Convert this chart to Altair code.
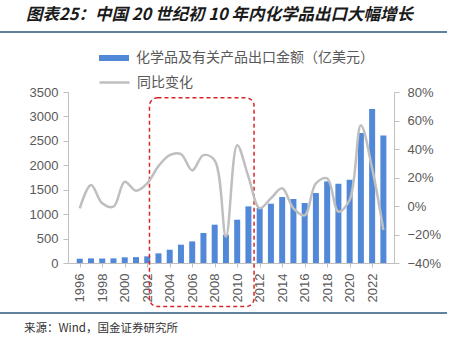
import altair as alt
import pandas as pd

years = list(range(1996, 2024))
export_value = [88, 95, 92, 95, 116, 120, 136, 198, 272, 375, 442, 614, 784, 580,
                886, 1159, 1125, 1214, 1350, 1310, 1228, 1432, 1670, 1622, 1704,
                2660, 3152, 2610]
yoy_change = [-1.6, 14.7, 1.9, -0.5, 17.0, 10.7, 15.9, 28.0, 35.7, 36.4, 25.0,
              35.7, 32.0, -21.5, 42.7, 20.5, -1.6, 5.4, 12.4, -1.6, -6.5, 15.9,
              19.4, -4.0, 4.2, 56.6, 26.4, -16.8]
x_tick_years = list(range(1996, 2023, 2))
left_ticks = list(range(0, 3501, 500))
right_ticks = [-0.4, -0.2, 0, 0.2, 0.4, 0.6, 0.8]

bar_name = "化学品及有关产品出口金额（亿美元）"
line_name = "同比变化"
title_text = "图表25：中国 20 世纪初 10 年内化学品出口大幅增长"
source_text = "来源：Wind，国金证券研究所"

# highlight box (data coordinates)
box_x = [2002.2]
box_x2 = [2011.5]
box_y = [3380]
box_y2 = [-890]

df = pd.DataFrame({
    "year": years,
    "value": export_value,
    "yoy": [v / 100 for v in yoy_change],
    "s1": bar_name,
    "s2": line_name,
})
box_df = pd.DataFrame({"x": box_x, "x2": box_x2, "y": box_y, "y2": box_y2})

W, H = 326, 171
FONT = "Liberation Sans"
CJK = "Noto Sans CJK SC"
xscale = alt.Scale(domain=[1995.4, 2023.5], nice=False, zero=False)
yscale = alt.Scale(domain=[0, 3500], nice=False)

xaxis = alt.Axis(values=x_tick_years, format="d",
                 labelAngle=-90, labelAlign="right", labelBaseline="middle",
                 labelFontSize=13, labelFont=FONT, labelColor="#595959",
                 domainColor="#bfbfbf", tickColor="#bfbfbf", tickSize=4,
                 labelPadding=6, grid=False, title=None, labelOverlap=False)
yaxis = alt.Axis(values=left_ticks, format="d", labelFontSize=13,
                 labelFont=FONT, labelColor="#595959", domainColor="#bfbfbf",
                 tickColor="#bfbfbf", tickSize=5, labelPadding=5,
                 grid=False, title=None, orient="left", labelOverlap=False)
y2axis = alt.Axis(values=right_ticks, format=".0%",
                  labelFontSize=13, labelFont=FONT, labelColor="#595959",
                  domainColor="#bfbfbf", tickColor="#bfbfbf", tickSize=5,
                  labelPadding=8, grid=False, title=None, orient="right",
                  labelOverlap=False)

base = alt.Chart(df)

bars = base.mark_bar(size=6).encode(
    x=alt.X("year:Q", scale=xscale, axis=xaxis),
    y=alt.Y("value:Q", scale=yscale, axis=yaxis),
    color=alt.Color("s1:N", scale=alt.Scale(domain=[bar_name], range=["#5189d8"]),
                    legend=alt.Legend(orient="none", legendX=30, legendY=-50,
                                      title=None, symbolType="M-1,-0.2H1V0.2H-1Z",
                                      symbolSize=900, symbolOpacity=1,
                                      labelFontSize=14, labelFont=CJK, labelLimit=0,
                                      labelColor="#595959", labelOffset=6)),
)

box = alt.Chart(box_df).mark_rect(
    fill="transparent", stroke="#d62728", strokeDash=[4, 3], strokeWidth=1.5,
    cornerRadius=8, clip=False
).encode(
    x=alt.X("x:Q", scale=xscale, axis=xaxis),
    x2="x2:Q",
    y=alt.Y("y:Q", scale=yscale, axis=yaxis),
    y2="y2:Q",
)

left = alt.layer(bars, box)

line = base.mark_line(strokeWidth=2.5, interpolate="catmull-rom").encode(
    x=alt.X("year:Q", scale=xscale, axis=xaxis),
    y=alt.Y("yoy:Q", scale=alt.Scale(domain=[-0.4, 0.8], nice=False), axis=y2axis),
    stroke=alt.Stroke("s2:N", scale=alt.Scale(domain=[line_name], range=["#bfbfbf"]),
                      legend=alt.Legend(orient="none", legendX=30, legendY=-26,
                                        title=None, symbolType="stroke",
                                        symbolSize=900, symbolStrokeWidth=2.5,
                                        labelFontSize=14, labelFont=CJK, labelLimit=0,
                                        labelColor="#595959", labelOffset=6)),
)

deco_df = pd.DataFrame({"t": [title_text]})
title = alt.Chart(deco_df).mark_text(
    font=CJK, fontSize=16.5, fontWeight="bold", fontStyle="italic",
    align="left", baseline="middle", color="#1a1a1a"
).encode(x=alt.value(-42), y=alt.value(-77), text="t:N")

src_df = pd.DataFrame({"t": [source_text]})
src = alt.Chart(src_df).mark_text(
    font=CJK, fontSize=11.5, align="left", baseline="middle", color="#333333"
).encode(x=alt.value(-44), y=alt.value(237), text="t:N")

rule_top = alt.Chart(deco_df).mark_rule(color="#2b5a7a", strokeWidth=1.5).encode(
    x=alt.value(-68), x2=alt.value(379), y=alt.value(-60))
rule_bot = alt.Chart(deco_df).mark_rule(color="#2b5a7a", strokeWidth=1.5).encode(
    x=alt.value(-68), x2=alt.value(379), y=alt.value(221))

chart = alt.layer(left, line, title, src, rule_top, rule_bot).resolve_scale(
    y="independent"
).properties(
    width=W, height=H,
    padding={"left": 68, "top": 92, "right": 62, "bottom": 80},
    autosize=alt.AutoSizeParams(type="none"),
).configure_view(stroke=None)

chart.save("out.html", embed_options={"renderer": "svg", "actions": False})
